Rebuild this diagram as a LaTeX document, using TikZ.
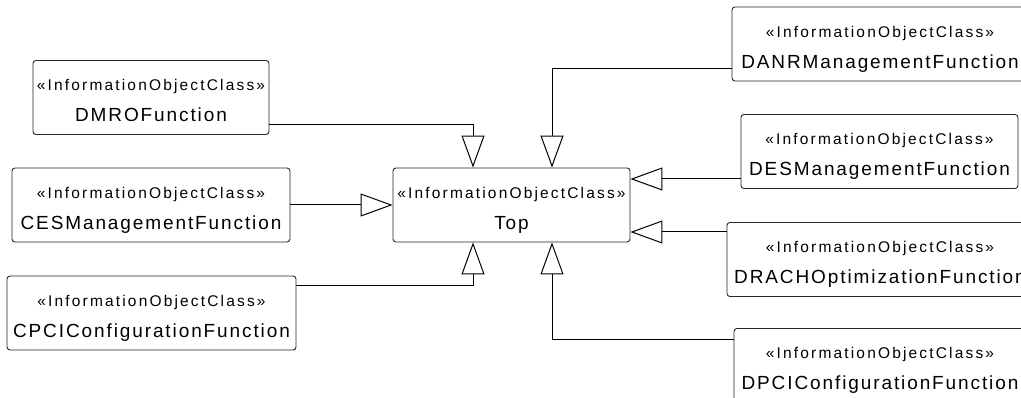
\documentclass[tikz,border=0pt]{standalone}
\usepackage{fontspec}
\setmainfont{Liberation Sans}
\newfontfamily\stereofont{Liberation Sans}[LetterSpace=14]
\newfontfamily\namefont{Liberation Sans}[LetterSpace=10]
\usetikzlibrary{arrows.meta}
\newcommand{\ioc}[1]{\rule{0pt}{24pt}{\stereofont «InformationObjectClass»}\\{\namefont\fontsize{19}{31}\selectfont\rule[-6pt]{0pt}{6pt}#1}}

\begin{document}
\begin{tikzpicture}[x=1pt,y=1pt,
    ioc/.style={draw=black!85,line width=0.9pt,rounded corners=3pt,inner sep=0pt,
      minimum height=74pt,align=center,font=\fontsize{15.5}{31}\selectfont},
    inh/.style={line width=1pt,-{Triangle[open,length=32pt,width=23pt]}}]
    \useasboundingbox (0,0) rectangle (1021,398);
    \clip (0,0) rectangle (1021,398);

    \node[ioc,minimum width=237pt] at (511.5,193) (top) {\ioc{Top}};

    \node[ioc,minimum width=236pt] at (151,300.5) (dmro) {\ioc{DMROFunction}};
    \node[ioc,minimum width=278pt] at (151,193) (ces) {\ioc{CESManagementFunction}};
    \node[ioc,minimum width=289pt] at (151.5,85) (cpci) {\ioc{CPCIConfigurationFunction}};

    \node[ioc,minimum width=296pt] at (880,354) (danr) {\ioc{DANRManagementFunction}};
    \node[ioc,minimum width=277pt] at (879.5,246.5) (des) {\ioc{DESManagementFunction}};
    \node[ioc,minimum width=306pt] at (880,138.5) (drach) {\ioc{DRACHOptimizationFunction}};
    \node[ioc,minimum width=292pt] at (880,32.5) (dpci) {\ioc{DPCIConfigurationFunction}};

    \draw[inh] ([yshift=-27.5pt]dmro.east) -| ([xshift=-38.5pt]top.north);
    \draw[inh] (ces.east) -- (top.west);
    \draw[inh] ([yshift=27pt]cpci.east) -| ([xshift=-38.5pt]top.south);
    \draw[inh] ([yshift=-25pt]danr.west) -| ([xshift=40.5pt]top.north);
    \draw[inh] ([yshift=-27.5pt]des.west) -- ([yshift=26pt]top.east);
    \draw[inh] ([yshift=27.5pt]drach.west) -- ([yshift=-27pt]top.east);
    \draw[inh] ([yshift=25.5pt]dpci.west) -| ([xshift=40.5pt]top.south);
\end{tikzpicture}
\end{document}
